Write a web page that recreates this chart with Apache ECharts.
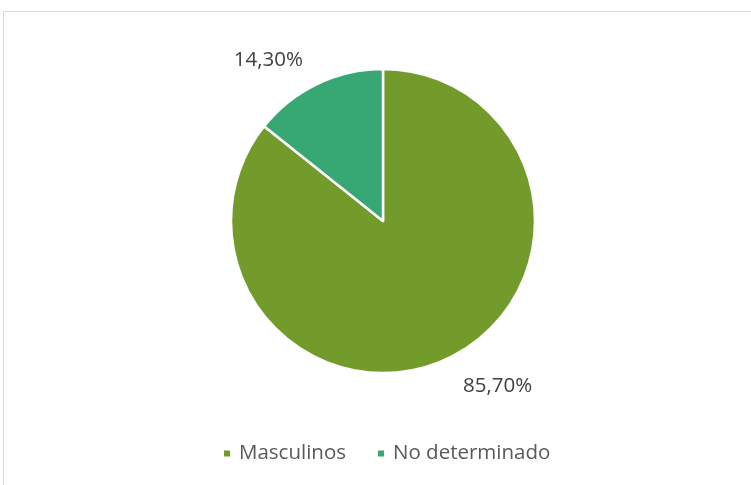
<!DOCTYPE html>
<html>
<head>
<meta charset="utf-8">
<script src="https://cdn.jsdelivr.net/npm/echarts@6/dist/echarts.min.js"></script>
<style>
  html, body { margin: 0; padding: 0; background: #fff; }
  #frame {
    position: absolute; left: 3px; top: 11px;
    width: 760px; height: 490px;
    border: 1px solid #d9d9d9; box-sizing: border-box;
  }
  #chart { position: absolute; left: 0; top: 0; width: 751px; height: 485px; }
</style>
</head>
<body>
<div id="frame"></div>
<div id="chart"></div>
<script>
const categories = ["Masculinos", "No determinado"];
const values = [85.7, 14.3];
const labels = ["85,70%", "14,30%"];
const colors = ["#739b2c", "#37a873"];

const chart = echarts.init(document.getElementById("chart"));
chart.setOption({
  animation: false,
  color: colors,
  legend: {
    top: 438,
    left: 217,
    icon: "rect",
    itemWidth: 8,
    itemHeight: 8,
    itemGap: 30,
    data: categories,
    textStyle: {
      fontFamily: "Open Sans",
      fontSize: 20.5,
      color: "#595959",
      padding: [0, 0, 0, 3],
    },
  },
  series: [
    {
      type: "pie",
      center: [383, 221],
      radius: 152,
      startAngle: 90,
      clockwise: true,
      itemStyle: {
        borderColor: "#fff",
        borderWidth: 2.5,
      },
      label: {
        show: true,
        position: "outside",
        formatter: (p) => labels[p.dataIndex],
        fontFamily: "Open Sans",
        fontSize: 20.5,
        color: "#404040",
      },
      labelLine: { show: false, length: 30, length2: 0 },
      labelLayout: (p) => (p.dataIndex === 0 ? { dx: -4, dy: 1 } : { dx: 4, dy: 3 }),
      emphasis: { disabled: true },
      data: categories.map((name, i) => ({ name, value: values[i] })),
    },
  ],
});
</script>
</body>
</html>
